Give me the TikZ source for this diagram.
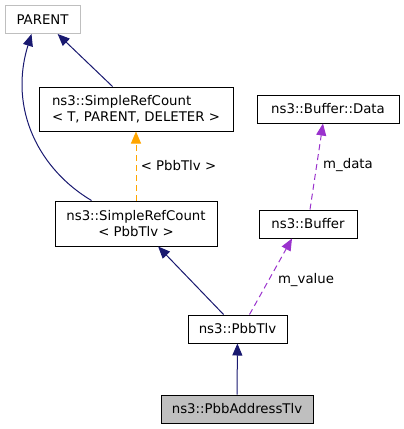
\documentclass[tikz,border=0pt]{standalone}
\usepackage{fontspec}
\setmainfont{DejaVu Sans}
\usetikzlibrary{arrows.meta}
\usetikzlibrary{positioning}
\definecolor{erbeblau}{HTML}{191970}
\definecolor{nutzlila}{HTML}{9A32CD}
\definecolor{vorlageorange}{HTML}{FFA500}
\definecolor{kastengrau}{HTML}{BFBFBF}
\tikzset{
	>={Triangle[length=12pt,width=10pt]},
	klasse/.style={
		rectangle,
		draw=black, line width=1pt,
		inner sep=0pt,
		minimum height=28pt,
		text centered,
		font=\fontsize{13.3}{16}\selectfont},
	extern/.style={klasse, draw=kastengrau},
	aktuell/.style={klasse, fill=kastengrau},
	erbe/.style={draw=erbeblau, line width=1pt, ->},
	nutzung/.style={draw=nutzlila, line width=1pt, dash pattern=on 6pt off 4pt, ->},
	vorlage/.style={draw=vorlageorange, line width=1pt, dash pattern=on 6pt off 4pt, ->},
	kantenlabel/.style={font=\fontsize{13.3}{16}\selectfont},
}
\begin{document}
\begin{tikzpicture}
	[x=1pt, y=-1pt]
	\useasboundingbox (0,0) rectangle (404,429);
	\node[extern, minimum width=75pt] (parent) at (42.5,19.5) {PARENT};
	\node[klasse, minimum width=194pt, minimum height=44pt, align=left] (srct) at (136,109) {ns3::SimpleRefCount\\< T, PARENT, DELETER >};
	\node[klasse, minimum width=162pt, minimum height=45pt, align=center] (srcp) at (136,223.5) {ns3::SimpleRefCount\\< PbbTlv >};
	\node[klasse, minimum width=142pt] (data) at (328,109) {ns3::Buffer::Data};
	\node[klasse, minimum width=98pt] (buffer) at (308,224) {ns3::Buffer};
	\node[klasse, minimum width=99pt] (pbbtlv) at (237.5,329) {ns3::PbbTlv};
	\node[aktuell, minimum width=152pt] (addr) at (237,409) {ns3::PbbAddressTlv};
	
	\draw[erbe] (addr) -- (pbbtlv);
	\draw[erbe] (pbbtlv) -- (srcp);
	\draw[erbe] (srct) -- (parent);
	\draw[erbe] ([xshift=37pt]srcp.north west) .. controls (40,170) and (8,110) .. ([xshift=27pt]parent.south west);
	\draw[vorlage] (srcp) -- node[kantenlabel, right=1pt] {< PbbTlv >} (srct);
	\draw[nutzung] ([xshift=12pt]pbbtlv.north) -- ([xshift=-16pt]buffer.south);
	\node[kantenlabel] (mvalue) at (306,280) {m\_value};
	\draw[nutzung] ([xshift=2pt]buffer.north) -- ([xshift=-5pt]data.south);
	\node[kantenlabel] (mdata) at (348,165) {m\_data};
\end{tikzpicture}
\end{document}
